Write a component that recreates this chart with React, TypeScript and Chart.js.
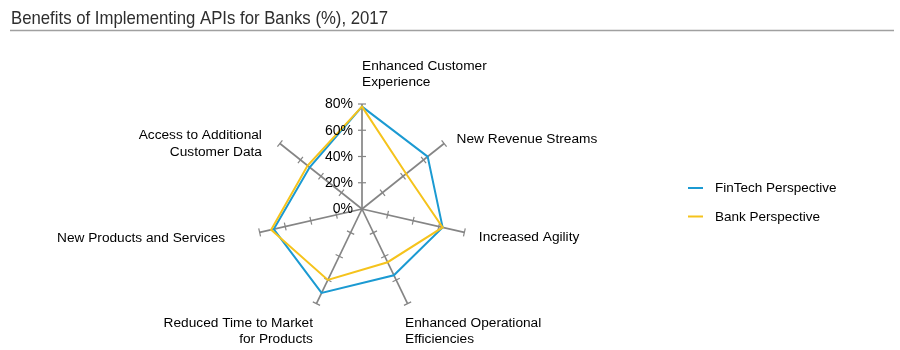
import React, { useEffect, useRef } from "react";
import { Chart, registerables } from "chart.js";

Chart.register(...registerables);

// ---------- data ----------
const titleText = "Benefits of Implementing APIs for Banks (%), 2017";
const categories: string[][] = [
  ["Enhanced Customer", "Experience"],
  ["New Revenue Streams"],
  ["Increased Agility"],
  ["Enhanced Operational", "Efficiencies"],
  ["Reduced Time to Market", "for Products"],
  ["New Products and Services"],
  ["Access to Additional", "Customer Data"],
];
const seriesNames = ["FinTech Perspective", "Bank Perspective"];
const fintechValues = [78, 64, 63, 56, 71, 69, 51];
const bankValues = [78, 43, 63, 45, 60, 71, 53];
const tickValues = [0, 20, 40, 60, 80];
const tickLabels = ["0%", "20%", "40%", "60%", "80%"];

// ---------- styles ----------
const BLUE = "#1b9ad2";
const YELLOW = "#f5c31c";
const AXIS = "#858585";
const TEXT = "#000000";
const FONT = '"Liberation Sans", Arial, sans-serif';
const TITLE_WIDTH = 377;

// label placement relative to each axis tip (layout only)
const labelLayout = [
  { dx: 0, dy: -38, align: "left", lh: 16 },
  { dx: 12.5, dy: -4.5, align: "left", lh: 16 },
  { dx: 14.5, dy: 5, align: "left", lh: 16 },
  { dx: -2.5, dy: 19.5, align: "left", lh: 16 },
  { dx: -3.5, dy: 19.5, align: "right", lh: 16 },
  { dx: -34.5, dy: 5.5, align: "right", lh: 16 },
  { dx: -18, dy: -8, align: "right", lh: 16.6 },
];

const decorPlugin = {
  id: "decor",
  beforeDatasetsDraw(chart: any) {
    const ctx = chart.ctx;
    const scale = chart.scales.r;
    const n = chart.data.labels.length;
    ctx.save();
    ctx.strokeStyle = AXIS;
    ctx.lineWidth = 1.2;
    for (let i = 0; i < n; i++) {
      const angle = scale.getIndexAngle(i) - Math.PI / 2;
      const px = -Math.sin(angle);
      const py = Math.cos(angle);
      tickValues.forEach((v) => {
        if (v === 0) return;
        const p = scale.getPointPositionForValue(i, v);
        const h = 4;
        ctx.beginPath();
        ctx.moveTo(p.x - px * h, p.y - py * h);
        ctx.lineTo(p.x + px * h, p.y + py * h);
        ctx.stroke();
      });
    }
    ctx.restore();
  },
  afterDraw(chart: any) {
    const ctx = chart.ctx;
    const scale = chart.scales.r;
    ctx.save();
    // title (horizontally condensed)
    ctx.fillStyle = "#2e2e2e";
    ctx.font = `19px ${FONT}`;
    ctx.textAlign = "left";
    ctx.textBaseline = "alphabetic";
    const w = ctx.measureText(titleText).width;
    const sx = TITLE_WIDTH / w;
    ctx.save();
    ctx.translate(11, 23.5);
    ctx.scale(sx, 1);
    ctx.fillText(titleText, 0, 0);
    ctx.restore();
    ctx.strokeStyle = "#a0a0a0";
    ctx.lineWidth = 1.5;
    ctx.beginPath();
    ctx.moveTo(10, 30.5);
    ctx.lineTo(894, 30.5);
    ctx.stroke();

    // tick labels
    ctx.fillStyle = TEXT;
    ctx.font = `14px ${FONT}`;
    ctx.textAlign = "right";
    ctx.textBaseline = "middle";
    tickValues.forEach((v, k) => {
      const y = scale.yCenter - scale.getDistanceFromCenterForValue(v);
      ctx.fillText(tickLabels[k], scale.xCenter - 9, y + 0.5);
    });

    // point labels
    ctx.font = `13.7px ${FONT}`;
    chart.data.labels.forEach((lab: string[], i: number) => {
      const tip = scale.getPointPosition(i, scale.drawingArea);
      const L = labelLayout[i];
      ctx.textAlign = L.align;
      lab.forEach((line, j) => {
        ctx.fillText(line, tip.x + L.dx, tip.y + L.dy + j * L.lh);
      });
    });

    // legend
    const lx = 688;
    const ly = [188, 216.5];
    chart.data.datasets.forEach((ds: any, k: number) => {
      ctx.strokeStyle = ds.borderColor;
      ctx.lineWidth = 2;
      ctx.beginPath();
      ctx.moveTo(lx, ly[k]);
      ctx.lineTo(lx + 15, ly[k]);
      ctx.stroke();
      ctx.fillStyle = TEXT;
      ctx.font = `13.5px ${FONT}`;
      ctx.textAlign = "left";
      ctx.textBaseline = "middle";
      ctx.fillText(ds.label, lx + 27, ly[k] + 0.5);
    });
    ctx.restore();
  },
};

export default function App() {
  const ref = useRef<HTMLCanvasElement | null>(null);
  useEffect(() => {
    document.body.style.margin = "0";
    if (!ref.current) return;
    const chart = new Chart(ref.current, {
      type: "radar",
      data: {
        labels: categories,
        datasets: [
          {
            label: seriesNames[0],
            data: fintechValues,
            borderColor: BLUE,
            backgroundColor: "transparent",
            borderWidth: 2,
            pointRadius: 0,
            fill: false,
            order: 1,
          },
          {
            label: seriesNames[1],
            data: bankValues,
            borderColor: YELLOW,
            backgroundColor: "transparent",
            borderWidth: 2,
            pointRadius: 0,
            fill: false,
            order: 0,
          },
        ],
      },
      options: {
        animation: false,
        responsive: true,
        maintainAspectRatio: false,
        layout: { padding: { left: 200, right: 376, top: 104, bottom: 36 } },
        plugins: {
          legend: { display: false },
          tooltip: { enabled: false },
          title: { display: false },
        },
        elements: { line: { tension: 0 } },
        scales: {
          r: {
            min: 0,
            max: 80,
            ticks: { stepSize: 20, display: false },
            grid: { display: false },
            angleLines: { display: true, color: AXIS, lineWidth: 1.7 },
            pointLabels: { display: false },
          },
        },
      },
      plugins: [decorPlugin],
    });
    return () => chart.destroy();
  }, []);
  return (
    <div style={{ position: "relative", width: 900, height: 350 }}>
      <canvas ref={ref} />
    </div>
  );
}
